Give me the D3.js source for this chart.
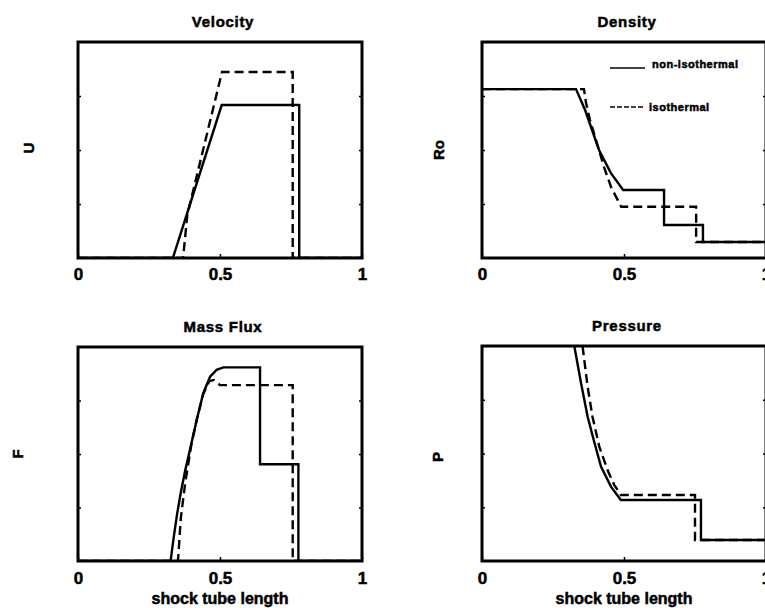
<!DOCTYPE html>
<html>
<head>
<meta charset="utf-8">
<script src="https://cdn.jsdelivr.net/npm/d3@7"></script>
<style>
  body { margin: 0; background: #fff; }
  svg text { font-family: "Liberation Sans", Arial, Helvetica, sans-serif; font-weight: bold; fill: #000; stroke: #000; stroke-width: 0.5px; }
</style>
</head>
<body>
<script>
// shock tube solution, position along tube (0..1) vs normalised value
// _non = non-isothermal (solid), _iso = isothermal (dashed)
const velX_non = [0, 0.334, 0.506, 0.779, 0.779, 1]
const velY_non = [0, 0, 0.708, 0.708, 0, 0]
const velX_iso = [0, 0.37, 0.385, 0.507, 0.756, 0.756, 1]
const velY_iso = [0, 0, 0.2, 0.861, 0.861, 0, 0]

const denX_non = [0, 0.331, 0.363, 0.412, 0.454, 0.497, 0.641, 0.641, 0.778, 0.778, 1]
const denY_non = [0.782, 0.782, 0.685, 0.5, 0.393, 0.315, 0.315, 0.153, 0.153, 0.074, 0.074]
const denX_iso = [0, 0.359, 0.366, 0.38, 0.43, 0.454, 0.49, 0.754, 0.754, 1]
const denY_iso = [0.782, 0.782, 0.72, 0.64, 0.42, 0.33, 0.237, 0.237, 0.074, 0.074]

const fluxX_non = [0, 0.326, 0.337, 0.349, 0.362, 0.377, 0.394, 0.418, 0.441, 0.465, 0.488, 0.512, 0.641, 0.641, 0.776, 0.776, 1]
const fluxY_non = [0, 0, 0.11, 0.22, 0.32, 0.42, 0.519, 0.659, 0.784, 0.861, 0.893, 0.905, 0.905, 0.452, 0.452, 0, 0]
const fluxX_iso = [0, 0.352, 0.362, 0.377, 0.40, 0.418, 0.441, 0.462, 0.478, 0.50, 0.756, 0.756, 1]
const fluxY_iso = [0, 0, 0.2, 0.36, 0.55, 0.66, 0.78, 0.84, 0.846, 0.822, 0.822, 0, 0]

// left state of pressure lies above the plotted range (clipped)
const presX_non = [0, 0.31, 0.325, 0.349, 0.372, 0.396, 0.419, 0.454, 0.489, 0.771, 0.771, 1]
const presY_non = [1.2, 1.2, 1.0, 0.826, 0.671, 0.55, 0.439, 0.346, 0.284, 0.284, 0.098, 0.098]
const presX_iso = [0, 0.34, 0.354, 0.372, 0.389, 0.413, 0.442, 0.466, 0.489, 0.75, 0.75, 1]
const presY_iso = [1.2, 1.2, 1.0, 0.81, 0.671, 0.532, 0.423, 0.353, 0.307, 0.307, 0.098, 0.098]

const xTicks = [0, 0.5, 1]
const yTicks = [0.25, 0.5, 0.75]
const legendLabels = ["non-isothermal", "isothermal"]

const w = 765, h = 608
const svg = d3.select("body").append("svg")
  .attr("width", w)
  .attr("height", h)

function panel(id, box, title, ylab, ylabPos, solid, dashed, xlabel) {
  const x = d3.scaleLinear().domain([0, 1]).range([box.left, box.right])
  const y = d3.scaleLinear().domain([0, 1]).range([box.bottom, box.top])
  const g = svg.append("g")

  g.append("clipPath").attr("id", "clip-" + id)
    .append("rect")
    .attr("x", box.left).attr("y", box.top)
    .attr("width", box.right - box.left).attr("height", box.bottom - box.top)

  const line = d3.line().x(d => x(d[0])).y(d => y(d[1]))

  g.append("path")
    .datum(d3.zip(dashed[0], dashed[1]))
    .attr("clip-path", `url(#clip-${id})`)
    .attr("d", line)
    .attr("fill", "none")
    .attr("stroke", "#000")
    .attr("stroke-width", 2.4)
    .attr("stroke-dasharray", "9,5")

  g.append("path")
    .datum(d3.zip(solid[0], solid[1]))
    .attr("clip-path", `url(#clip-${id})`)
    .attr("d", line)
    .attr("fill", "none")
    .attr("stroke", "#000")
    .attr("stroke-width", 2.4)

  // bottom axis, ticks point inward
  const ax = g.append("g")
    .attr("transform", `translate(0,${box.bottom})`)
    .call(d3.axisBottom(x).tickValues(xTicks).tickFormat(d3.format(""))
      .tickSizeInner(-4).tickSizeOuter(0).tickPadding(box.pad))
  ax.select(".domain").remove()
  ax.selectAll("text").style("font-size", "17px")
  ax.selectAll("line").attr("stroke-width", 1.5)

  const ayl = g.append("g")
    .attr("transform", `translate(${box.left},0)`)
    .call(d3.axisLeft(y).tickValues(yTicks).tickFormat("").tickSizeInner(-3).tickSizeOuter(0))
  ayl.select(".domain").remove()
  ayl.selectAll("line").attr("stroke-width", 1.5)

  const ayr = g.append("g")
    .attr("transform", `translate(${box.right},0)`)
    .call(d3.axisRight(y).tickValues(yTicks).tickFormat("").tickSizeInner(-3).tickSizeOuter(0))
  ayr.select(".domain").remove()
  ayr.selectAll("line").attr("stroke-width", 1.5)

  // frame
  g.append("rect")
    .attr("x", box.left).attr("y", box.top)
    .attr("width", box.right - box.left).attr("height", box.bottom - box.top)
    .attr("fill", "none")
    .attr("stroke", "#000")
    .attr("stroke-width", 3)

  g.append("text")
    .attr("x", (box.left + box.right) / 2 + 3)
    .attr("y", box.top - 15)
    .attr("text-anchor", "middle")
    .style("font-size", "15px")
    .style("letter-spacing", "0.7px")
    .text(title)

  g.append("text")
    .attr("transform", `translate(${ylabPos[0]},${ylabPos[1]}) rotate(-90)`)
    .attr("text-anchor", "middle")
    .attr("dy", "0.35em")
    .style("font-size", "15px")
    .text(ylab)

  if (xlabel) {
    g.append("text")
      .attr("x", (box.left + box.right) / 2)
      .attr("y", box.bottom + 43)
      .attr("text-anchor", "middle")
      .style("font-size", "16px")
      .text(xlabel)
  }
  return g
}

panel("vel", { left: 78, right: 362, top: 42, bottom: 258, pad: 10 }, "Velocity", "U", [29, 148],
  [velX_non, velY_non], [velX_iso, velY_iso])

const den = panel("den", { left: 482, right: 766, top: 42, bottom: 258, pad: 10 }, "Density", "Ro", [439, 150],
  [denX_non, denY_non], [denX_iso, denY_iso])

panel("flux", { left: 78, right: 362, top: 347, bottom: 561, pad: 11 }, "Mass Flux", "F", [18, 454],
  [fluxX_non, fluxY_non], [fluxX_iso, fluxY_iso], "shock tube length")

panel("pres", { left: 482, right: 766, top: 346, bottom: 561, pad: 11 }, "Pressure", "P", [438, 457],
  [presX_non, presY_non], [presX_iso, presY_iso], "shock tube length")

// legend inside the density plot
const leg = den.selectAll(".leg")
  .data(legendLabels)
  .enter()
  .append("g")
  .attr("class", "leg")
  .attr("transform", (d, i) => `translate(610,${i === 0 ? 68 : 107})`)

leg.append("line")
  .attr("x1", 0).attr("x2", 35)
  .attr("stroke", "#000")
  .attr("stroke-width", 1.5)
  .attr("stroke-dasharray", (d, i) => i === 0 ? null : "5,2")

leg.append("text")
  .attr("x", (d, i) => i === 0 ? 42 : 39)
  .attr("y", (d, i) => i === 0 ? 0 : 4)
  .style("font-size", "11px")
  .style("letter-spacing", "0.5px")
  .text(d => d)
</script>
</body>
</html>
